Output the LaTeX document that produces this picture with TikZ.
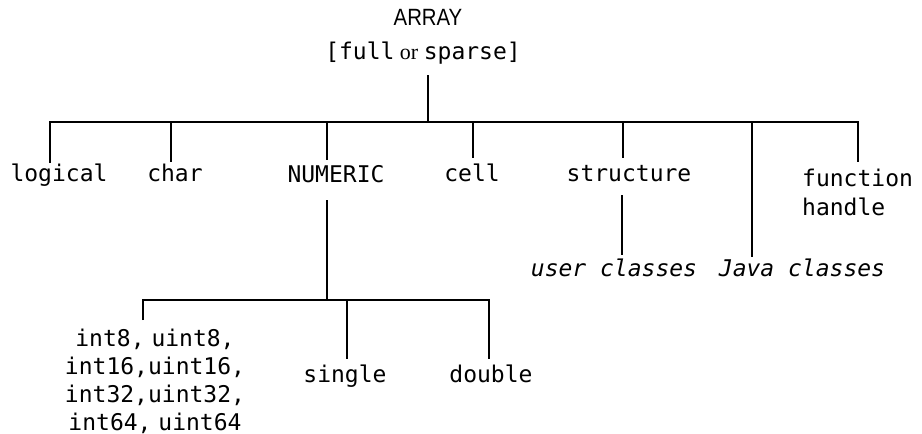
\documentclass[tikz,border=0pt]{standalone}
\usepackage{fontspec}
\usepackage{graphicx}
\setmainfont{Liberation Serif}
\setsansfont{Liberation Sans}
\setmonofont{DejaVu Sans Mono}
\begin{document}
\begin{tikzpicture}[x=1pt,y=-1pt,
  conn/.style={line width=2.3pt,black},
  lbl/.style={inner sep=0pt,anchor=base,font=\fontsize{23}{28}\selectfont\ttfamily},
  ilbl/.style={lbl,font=\fontsize{23}{28}\selectfont\ttfamily\itshape},
  ttl/.style={inner sep=0pt,anchor=base,font=\fontsize{21}{25}\selectfont\sffamily}]
\useasboundingbox (0,0) rectangle (922,434);
% texts
\node[ttl] (array) at (428,25) {\scalebox{0.97}[1.12]{ARRAY}};
\node[lbl] (fs) at (423,59) {[full{\rmfamily\fontsize{22}{25}\selectfont\ or\ }sparse]};
\node[lbl] (logical) at (59,181) {logical};
\node[lbl] (char) at (175,181) {char};
\node[lbl] (numeric) at (336,182) {NUMERIC};
\node[lbl] (cell) at (472,181) {cell};
\node[lbl] (structure) at (629,181) {structure};
\node[lbl,anchor=base west,align=left,font=\fontsize{23}{29}\selectfont\ttfamily] (fh) at (802,215) {function\\handle};
\node[ilbl] (user) at (614,276) {user classes};
\node[ilbl] (java) at (802,276) {Java classes};
\node[lbl,align=center] (ints) at (155,430) {int8,\hspace{0.3em}uint8,\\int16,uint16,\\int32,uint32,\\int64,\hspace{0.3em}uint64};
\node[lbl] (single) at (345,382) {single};
\node[lbl] (double) at (491,382) {double};
% junction coordinates
\coordinate (rootT) at (428,75);
\coordinate (rootB) at (428,122);
\coordinate (bL) at (50,122);
\coordinate (bR) at (858,122);
\coordinate (dLog) at (50,163);
\coordinate (dFh) at (858,162);
\coordinate (cCh) at (171,122);  \coordinate (dCh) at (171,162);
\coordinate (cNu) at (327,122);  \coordinate (dNu) at (327,160);
\coordinate (cCe) at (473,122);  \coordinate (dCe) at (473,158);
\coordinate (cSt) at (623,122);  \coordinate (dSt) at (623,158);
\coordinate (cJa) at (752,122);  \coordinate (dJa) at (752,257);
\coordinate (uT) at (622,195);   \coordinate (uB) at (622,255);
\coordinate (nT) at (327,200);   \coordinate (nB) at (327,300);
\coordinate (lL) at (143,300);   \coordinate (lR) at (489,300);
\coordinate (dInt) at (143,320);
\coordinate (cSi) at (347,300);  \coordinate (dSi) at (347,359);
\coordinate (dDo) at (489,359);
% connectors
\draw[conn] (rootT) -- (rootB);
\draw[conn] (dLog) -- (bL) -- (bR) -- (dFh);
\draw[conn,line width=1.3pt] (cCh) -- (dCh);
\draw[conn] (cNu) -- (dNu);
\draw[conn] (cCe) -- (dCe);
\draw[conn] (cSt) -- (dSt);
\draw[conn] (cJa) -- (dJa);
\draw[conn] (uT) -- (uB);
\draw[conn] (nT) -- (nB);
\draw[conn] (dInt) -- (lL) -- (lR) -- (dDo);
\draw[conn] (cSi) -- (dSi);
\end{tikzpicture}
\end{document}
